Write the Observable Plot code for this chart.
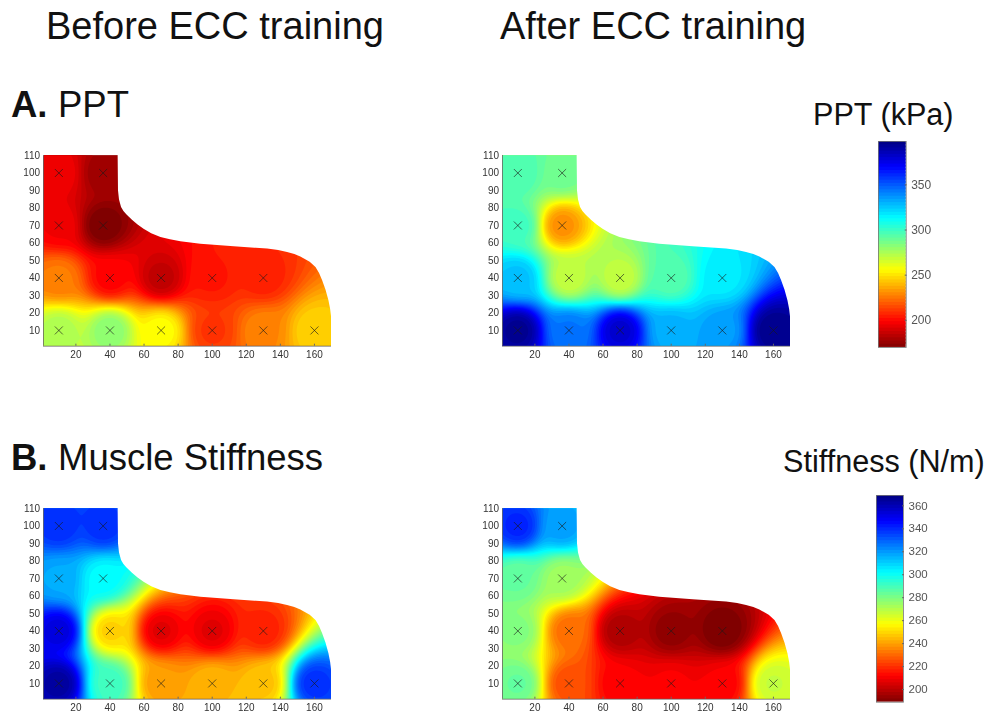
<!DOCTYPE html>
<html>
<head>
<meta charset="utf-8">
<script src="https://cdn.jsdelivr.net/npm/d3@7"></script>
<script src="https://cdn.jsdelivr.net/npm/@observablehq/plot@0.6"></script>
<style>
html,body{margin:0;padding:0;background:#fff}
#page{position:relative;width:989px;height:720px;overflow:hidden;font-family:"Liberation Sans",Arial,sans-serif;color:#111}
#page svg{position:absolute;background:transparent;filter:blur(.6px)}
.t{position:absolute;white-space:nowrap;line-height:1}
</style>
</head>
<body>
<div id="page"></div>
<script>
// electrode sites
const siteX = [10, 36, 10, 36, 10, 40, 70, 100, 130, 10, 40, 70, 100, 130, 160];
const siteY = [100, 100, 70, 70, 40, 40, 40, 40, 40, 10, 10, 10, 10, 10, 10];
// values at each site
const pptBefore = [198, 178, 198, 170, 228, 200, 186, 205, 207, 276, 284, 258, 212, 230, 248];
const pptAfter = [298, 290, 300, 232, 328, 270, 270, 295, 318, 396, 345, 382, 332, 336, 398];
const stiffBefore = [340, 340, 318, 303, 354, 250, 208, 208, 218, 365, 292, 240, 245, 247, 340];
const stiffAfter = [342, 320, 285, 275, 280, 232, 198, 193, 189, 285, 226, 212, 212, 212, 268];
// muscle outline, upper edge
const outlineX = [1, 44.8, 44.8, 45, 45.6, 46.8, 48.2, 50, 53.2, 56.5, 60, 64.5, 69.9, 75.5, 81.6, 93.3, 112.9, 132.5, 139, 144.2, 148.5, 152, 157.5, 160.9, 163, 164.8, 166.8, 168.5, 169.5, 170, 173];
const outlineTop = [110, 110, 110, 89.8, 84.5, 80.3, 78, 76, 73, 70.3, 67.9, 65.2, 63.1, 61.8, 60.7, 59.3, 57.8, 56.5, 55.7, 54.6, 53.4, 52, 49, 46, 42.5, 38.4, 33, 27, 22, 18, 18];
// axes
const xTicks = [20, 40, 60, 80, 100, 120, 140, 160];
const yTicks = [10, 20, 30, 40, 50, 60, 70, 80, 90, 100, 110];
const pptDomain = [170, 398];
const stiffDomain = [189, 369];
const pptBarTicks = [200, 250, 300, 350];
const stiffBarTicks = [200, 220, 240, 260, 280, 300, 320, 340, 360];
const jetColors = ["#800000", "#ff0000", "#ff8000", "#ffff00", "#80ff80", "#00ffff", "#0080ff", "#0000ff", "#000080"];

const jet = d3.piecewise(d3.interpolateRgb, jetColors);
const page = document.getElementById("page");
const levels = ([a, b]) => d3.range(64).map(i => a + (b - a) * i / 64);

// inverse-distance weighting between the sites
function idw(domain, power) {
  return (index, w, h, X, Y, V) => {
    const I = Array.from(index);
    const W = new Float64Array(w * h);
    for (let y = 0; y < h; y++) for (let x = 0; x < w; x++) {
      let a = 0, b = 0;
      for (const i of I) {
        const d2 = Math.max(1e-4, (x + .5 - X[i]) ** 2 + (y + .5 - Y[i]) ** 2);
        const k = Math.pow(d2, -power / 2);
        a += k * V[i];
        b += k;
      }
      W[y * w + x] = Math.max(domain[0], Math.min(domain[1] - 0.001, a / b));
    }
    return W;
  };
}

function panel(values, domain, left, top) {
  const mL = 30, mT = 5, mR = 6, mB = 20;
  const pts = siteX.map((x, i) => ({x, y: siteY[i], v: values[i]}));
  const outline = outlineX.map((x, i) => ({x, top: outlineTop[i]}));
  const svg = Plot.plot({
    width: 288 + mL + mR, height: 190.7 + mT + mB,
    marginLeft: mL, marginTop: mT, marginRight: mR, marginBottom: mB,
    style: {background: "transparent", fontFamily: "Liberation Sans, Arial, sans-serif"},
    x: {domain: [1, 170], label: null},
    y: {domain: [1, 110], label: null},
    color: {type: "linear", domain, interpolate: jet, clamp: true},
    marks: [
      Plot.contour(pts, {x: "x", y: "y", fill: "v", interpolate: idw(domain, 3.2), thresholds: levels(domain), pixelSize: 1, stroke: "none", clip: "frame"}),
      Plot.areaY(outline, {x: "x", y1: "top", y2: 111, fill: "white", curve: "linear"}),
      Plot.dot(pts, {x: "x", y: "y", symbol: "times", r: 3.7, stroke: "#1a1a1a", strokeWidth: .75, strokeOpacity: .85}),
      Plot.ruleX([1], {stroke: "#666", strokeWidth: .8}),
      Plot.ruleY([1], {stroke: "#666", strokeWidth: .8}),
      Plot.axisX({ticks: xTicks, tickFormat: d => d, tickSize: -2, tickPadding: 7, fontSize: 10, color: "#333", stroke: "#666", label: null}),
      Plot.axisY({ticks: yTicks, tickFormat: d => d, tickSize: 0, tickPadding: 3.5, fontSize: 10, color: "#333", label: null})
    ]
  });
  svg.style.left = (left - mL) + "px";
  svg.style.top = (top - mT) + "px";
  page.appendChild(svg);
}

function colorbar(domain, ticks, left, top, w, h, fs) {
  const mR = 42, mT = 6, mB = 6;
  const step = (domain[1] - domain[0]) / 64;
  const svg = Plot.plot({
    width: w + mR + 2, height: h + mT + mB,
    marginLeft: 1, marginRight: mR, marginTop: mT, marginBottom: mB,
    style: {background: "transparent", fontFamily: "Liberation Sans, Arial, sans-serif"},
    x: {domain: [0, 1], axis: null},
    y: {domain, label: null},
    color: {type: "linear", domain, interpolate: jet, clamp: true},
    marks: [
      Plot.rect(levels(domain), {x1: 0, x2: 1, y1: d => d, y2: d => Math.min(domain[1], d + step * 1.6), fill: d => d + step / 2}),
      Plot.frame({stroke: "#777", strokeWidth: .8}),
      Plot.axisY({anchor: "right", ticks, tickFormat: d => d, tickSize: -2, tickPadding: 7, fontSize: fs, color: "#555", stroke: "#666", label: null})
    ]
  });
  svg.style.left = (left - 1) + "px";
  svg.style.top = (top - mT) + "px";
  page.appendChild(svg);
}

function text(s, x, y, size, bold) {
  const d = document.createElement("div");
  d.className = "t";
  d.textContent = s;
  d.style.left = x + "px";
  d.style.top = y + "px";
  d.style.fontSize = size + "px";
  if (bold) d.style.fontWeight = "bold";
  page.appendChild(d);
}

panel(pptBefore, pptDomain, 42.7, 154.7);
panel(pptAfter, pptDomain, 502.3, 154.7);
panel(stiffBefore, stiffDomain, 42.7, 507.7);
panel(stiffAfter, stiffDomain, 502.3, 507.7);
colorbar(pptDomain, pptBarTicks, 878.3, 140.7, 26.7, 206, 12);
colorbar(stiffDomain, stiffBarTicks, 876, 495, 26, 206.7, 11.5);

text("Before ECC training", 46, 7, 38);
text("After ECC training", 500, 7, 38);
text("A.", 11, 87, 36.5, true);
text("PPT", 58, 87, 36.5);
text("B.", 11, 440, 36.5, true);
text("Muscle Stiffness", 58, 440, 36.5);
text("PPT (kPa)", 813, 99, 30.6);
text("Stiffness (N/m)", 783, 446, 30.6);
</script>
</body>
</html>
